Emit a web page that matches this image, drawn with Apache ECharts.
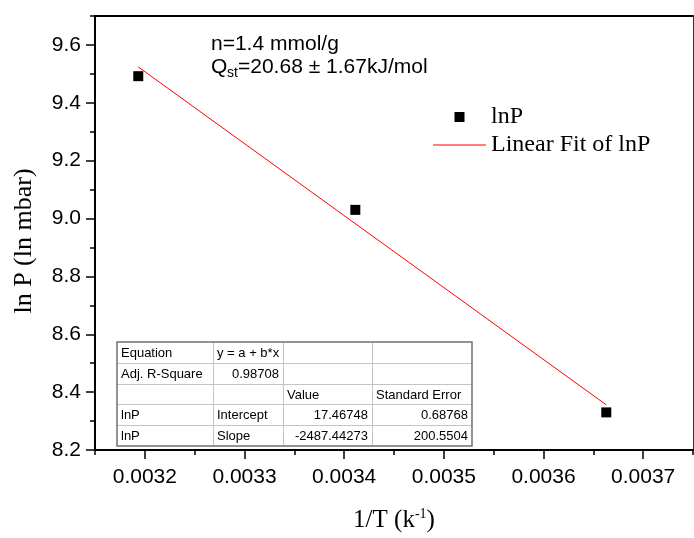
<!DOCTYPE html>
<html>
<head>
<meta charset="utf-8">
<script src="https://cdn.jsdelivr.net/npm/echarts@6/dist/echarts.min.js"></script>
<style>
  html, body { margin: 0; padding: 0; background: #ffffff; }
  #chart { width: 694px; height: 538px; }
</style>
</head>
<body>
<div id="chart"></div>
<script>
// Measured points: inverse temperature (1/K) vs. ln of pressure (ln mbar)
const invT = [0.0031934, 0.0034112, 0.0036630];
const lnP = [9.492, 9.030, 8.330];

// Linear fit parameters (from the fit table) and the span it is drawn over
const fitIntercept = 17.46748;
const fitSlope = -2487.44273;
const fitSpan = [0.0031934, 0.0036630];

// Axis ticks
const xTicks = [0.0032, 0.0033, 0.0034, 0.0035, 0.0036, 0.0037];
const xMinorTicks = [0.00315, 0.00325, 0.00335, 0.00345, 0.00355, 0.00365, 0.00375];
const yTicks = [8.2, 8.4, 8.6, 8.8, 9.0, 9.2, 9.4, 9.6];
const yMinorTicks = [8.3, 8.5, 8.7, 8.9, 9.1, 9.3, 9.5, 9.7];

// Fit summary table
const tableRows = [
  ['Equation', 'y = a + b*x', '', ''],
  ['Adj. R-Square', '0.98708', '', ''],
  ['', '', 'Value', 'Standard Error'],
  ['lnP', 'Intercept', '17.46748', '0.68768'],
  ['lnP', 'Slope', '-2487.44273', '200.5504']
];

const X_MIN = 0.00315, X_MAX = 0.00375;
const Y_MIN = 8.2, Y_MAX = 9.7;

const SANS = 'Liberation Sans, Arial, sans-serif';
const SERIF = 'Liberation Serif, Times New Roman, serif';

const fitLine = fitSpan.map(x => [x, fitIntercept + fitSlope * x]);
const points = invT.map((x, i) => [x, lnP[i]]);

// ---- table graphic ----
const colEdges = [117, 213, 283, 372, 472];
const tableTop = 342, rowH = 20.8;
const tableBottom = tableTop + rowH * tableRows.length;
const tableEls = [];
tableEls.push({
  type: 'rect', shape: { x: colEdges[0], y: tableTop, width: colEdges[4] - colEdges[0], height: tableBottom - tableTop },
  style: { fill: '#ffffff', stroke: null }, z: 10
});
for (let r = 1; r < tableRows.length; r++) {
  const y = Math.round(tableTop + r * rowH) + 0.5;
  tableEls.push({ type: 'line', shape: { x1: colEdges[0], y1: y, x2: colEdges[4], y2: y },
    style: { stroke: '#c4c4c4', lineWidth: 1 }, z: 11 });
}
for (let c = 1; c < 4; c++) {
  const x = colEdges[c] + 0.5;
  tableEls.push({ type: 'line', shape: { x1: x, y1: tableTop, x2: x, y2: tableBottom },
    style: { stroke: '#c4c4c4', lineWidth: 1 }, z: 11 });
}
tableEls.push({
  type: 'rect', shape: { x: colEdges[0], y: tableTop, width: colEdges[4] - colEdges[0], height: tableBottom - tableTop },
  style: { fill: null, stroke: '#707070', lineWidth: 1.5 }, z: 12
});
tableRows.forEach((row, r) => {
  row.forEach((txt, c) => {
    if (!txt) return;
    const numeric = /^-?[0-9.]+$/.test(txt);
    tableEls.push({
      type: 'text', z: 13,
      x: numeric ? colEdges[c + 1] - 4 : colEdges[c] + 4,
      y: tableTop + r * rowH + rowH / 2 + 1,
      style: {
        text: txt, fill: '#000000', font: '13px ' + SANS,
        textAlign: numeric ? 'right' : 'left', textVerticalAlign: 'middle'
      }
    });
  });
});

// ---- annotation ----
const noteEls = [
  { type: 'text', x: 211, y: 44, z: 20,
    style: { text: 'n=1.4 mmol/g', fill: '#000', font: '21px ' + SANS, textVerticalAlign: 'middle' } },
  { type: 'text', x: 211, y: 67, z: 20,
    style: { text: 'Q', fill: '#000', font: '21px ' + SANS, textVerticalAlign: 'middle' } },
  { type: 'text', x: 227, y: 73, z: 20,
    style: { text: 'st', fill: '#000', font: '14px ' + SANS, textVerticalAlign: 'middle' } },
  { type: 'text', x: 238, y: 67, z: 20,
    style: { text: '=20.68 \u00B1 1.67kJ/mol', fill: '#000', font: '21px ' + SANS, textVerticalAlign: 'middle' } }
];

const chart = echarts.init(document.getElementById('chart'), null, { renderer: 'canvas' });

const hidden = { show: false };
const option = {
  animation: false,
  backgroundColor: '#ffffff',
  grid: { left: 95, top: 16, right: 1, bottom: 83, containLabel: false },
  legend: {
    orient: 'vertical', left: 433, top: 105, padding: 0,
    itemWidth: 53, itemHeight: 10, itemGap: 4,
    symbolKeepAspect: true,
    itemStyle: { borderWidth: 0 },
    textStyle: { fontFamily: SERIF, fontSize: 24, color: '#000', lineHeight: 24 },
    data: [
      { name: 'lnP', icon: 'path://M0,0h10v10h-10z' },
      { name: 'Linear Fit of lnP', icon: 'path://M0,0h53v1h-53z' }
    ]
  },
  xAxis: [
    {
      type: 'value', position: 'bottom', min: X_MIN, max: X_MAX,
      name: '{a|1/T (k}{s|-1}{a|)}', nameLocation: 'middle', nameGap: 55,
      nameTextStyle: {
        rich: {
          a: { fontFamily: SERIF, fontSize: 25, color: '#000', lineHeight: 28, verticalAlign: 'bottom' },
          s: { fontFamily: SERIF, fontSize: 14, color: '#000', lineHeight: 28, verticalAlign: 'top', padding: [2, 0, 0, 0] }
        }
      },
      axisLine: { show: true, onZero: false, lineStyle: { color: '#000', width: 2 } },
      axisTick: { show: true, customValues: xTicks, length: 9, lineStyle: { color: '#000', width: 1.5 } },
      axisLabel: {
        customValues: xTicks, margin: 17, color: '#000', fontFamily: SANS, fontSize: 21,
        formatter: v => v.toFixed(4)
      },
      splitLine: hidden
    },
    {
      type: 'value', position: 'bottom', min: X_MIN, max: X_MAX,
      axisLine: { show: false, onZero: false },
      axisTick: { show: true, customValues: xMinorTicks, length: 5, lineStyle: { color: '#000', width: 1.5 } },
      axisLabel: hidden, splitLine: hidden
    },
    {
      type: 'value', position: 'top', min: X_MIN, max: X_MAX,
      axisLine: { show: true, onZero: false, lineStyle: { color: '#000', width: 2 } },
      axisTick: hidden, axisLabel: hidden, splitLine: hidden
    }
  ],
  yAxis: [
    {
      type: 'value', position: 'left', min: Y_MIN, max: Y_MAX,
      name: 'ln P (ln mbar)', nameLocation: 'middle', nameGap: 58,
      nameTextStyle: { fontFamily: SERIF, fontSize: 26, color: '#000', padding: [0, 16, 0, 0] },
      axisLine: { show: true, onZero: false, lineStyle: { color: '#000', width: 2 } },
      axisTick: { show: true, customValues: yTicks, length: 9, lineStyle: { color: '#000', width: 1.5 } },
      axisLabel: {
        customValues: yTicks, margin: 14, color: '#000', fontFamily: SANS, fontSize: 21,
        formatter: v => v.toFixed(1)
      },
      splitLine: hidden
    },
    {
      type: 'value', position: 'left', min: Y_MIN, max: Y_MAX,
      axisLine: { show: false, onZero: false },
      axisTick: { show: true, customValues: yMinorTicks, length: 5, lineStyle: { color: '#000', width: 1.5 } },
      axisLabel: hidden, splitLine: hidden
    },
    {
      type: 'value', position: 'right', min: Y_MIN, max: Y_MAX,
      axisLine: { show: true, onZero: false, lineStyle: { color: '#333', width: 1 } },
      axisTick: hidden, axisLabel: hidden, splitLine: hidden
    }
  ],
  series: [
    {
      name: 'lnP', type: 'scatter', xAxisIndex: 0, yAxisIndex: 0,
      symbol: 'rect', symbolSize: 10,
      itemStyle: { color: '#000', opacity: 1 },
      data: points, z: 5
    },
    {
      name: 'Linear Fit of lnP', type: 'line', xAxisIndex: 0, yAxisIndex: 0,
      showSymbol: false, symbol: 'none',
      lineStyle: { color: '#ff0000', width: 1 },
      itemStyle: { color: '#ff0000' },
      data: fitLine, z: 4
    }
  ],
  graphic: [
    { type: 'group', children: tableEls },
    { type: 'group', children: noteEls }
  ]
};
chart.setOption(option);
</script>
</body>
</html>
